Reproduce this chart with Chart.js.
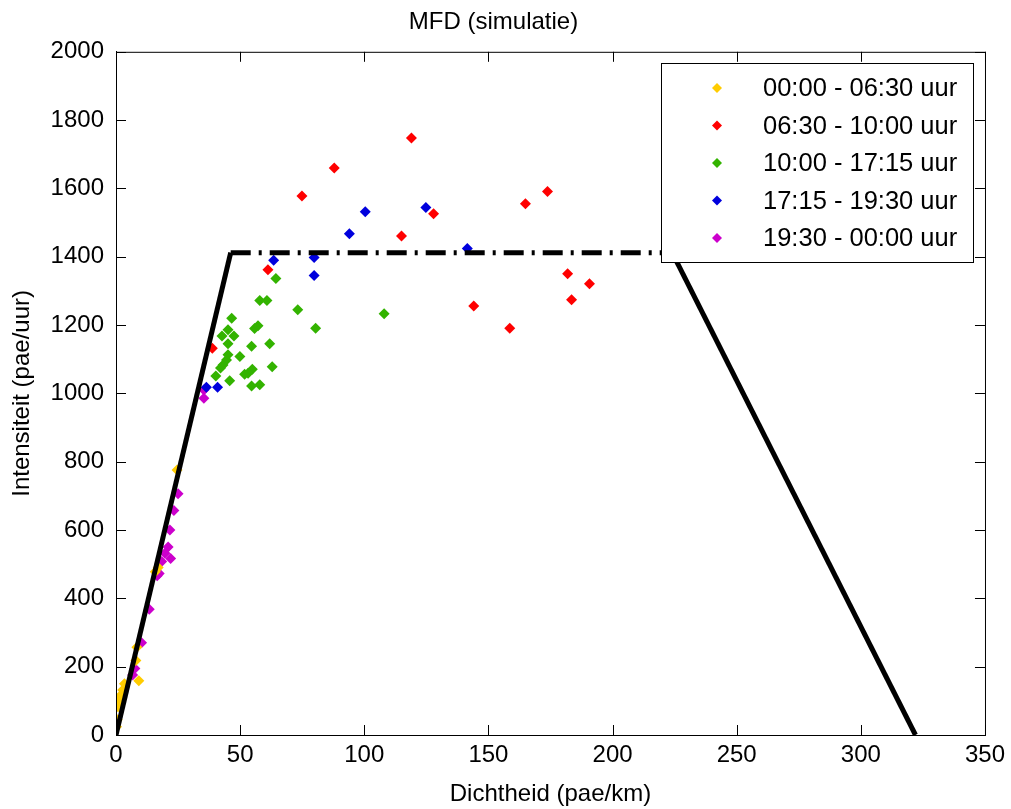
<!DOCTYPE html>
<html lang="nl">
<head>
<meta charset="UTF-8">
<title>MFD (simulatie)</title>
<script src="https://cdn.jsdelivr.net/npm/chart.js@4.4.0/dist/chart.umd.min.js"></script>
<style>
    body { margin: 0; background: #fff; }
    canvas { display: block; }
</style>
</head>
<body>
<canvas id="mfd" width="1011" height="809"></canvas>

<script>
// Data (dichtheid in pae/km, intensiteit in pae/uur)
const periods = ['00:00 - 06:30 uur', '06:30 - 10:00 uur', '10:00 - 17:15 uur', '17:15 - 19:30 uur', '19:30 - 00:00 uur'];
const colors = ['#ffcc00', '#ff0000', '#33b300', '#0000dd', '#cc00cc'];

const nachtX = [0.2, 0.5, 0.8, 1.2, 1.6, 2.7, 3.4, 8.0, 8.4, 9.2, 15.8, 17.0, 24.6];
const nachtY = [24, 45, 83, 98, 114, 132, 150, 218, 257, 159, 478, 490, 776];

const ochtendX = [38.8, 61.2, 74.9, 87.9, 119.0, 115.0, 127.9, 164.9, 173.8, 181.9, 190.7, 183.5, 144.1, 158.6];
const ochtendY = [1132, 1362, 1578, 1660, 1748, 1461, 1526, 1555, 1591, 1350, 1321, 1274, 1256, 1191];

const dagX = [64.4, 57.9, 60.8, 73.2, 46.6, 55.8, 57.2, 80.4, 45.1, 42.7, 47.5, 45.1, 54.6, 61.9, 49.9, 45.1, 44.5, 43.1, 42.1, 62.9, 54.9, 53.2, 51.8, 40.2, 45.8, 54.6, 57.9, 108.0];
const dagY = [1336, 1272, 1272, 1245, 1220, 1190, 1198, 1191, 1186, 1168, 1168, 1145, 1138, 1145, 1108, 1113, 1098, 1083, 1074, 1078, 1071, 1059, 1056, 1051, 1037, 1022, 1025, 1233];

const avondX = [36.4, 40.9, 63.5, 79.8, 79.8, 94.0, 100.4, 124.8, 141.5];
const avondY = [1018, 1018, 1390, 1398, 1345, 1467, 1532, 1544, 1424];

const nachtLaatX = [6.7, 7.6, 10.3, 13.4, 16.6, 17.4, 18.4, 19.7, 21.0, 22.0, 21.7, 23.3, 25.0, 35.4, 35.4];
const nachtLaatY = [176, 195, 270, 368, 466, 473, 508, 532, 550, 517, 600, 657, 706, 1010, 986];

// fundamental diagram: critical density, capacity, jam density
const mfdX = [0, 46.2, 224, 322];
const mfdY = [0, 1412, 1412, 0];

const xTicks = [0, 50, 100, 150, 200, 250, 300, 350];
const yTicks = [0, 200, 400, 600, 800, 1000, 1200, 1400, 1600, 1800, 2000];

const FONT = "'Liberation Sans', Arial, sans-serif";

function pairs(xs, ys) {
    return xs.map((x, i) => ({ x: x, y: ys[i] }));
}

const groups = [
    [nachtX, nachtY], [ochtendX, ochtendY], [dagX, dagY], [avondX, avondY], [nachtLaatX, nachtLaatY]
];

const scatterSets = groups.map((g, i) => ({
    type: 'scatter',
    label: periods[i],
    data: pairs(g[0], g[1]),
    pointStyle: 'rectRot',
    pointRadius: 5.5,
    pointBackgroundColor: colors[i],
    pointBorderWidth: 0,
    order: 2
}));

const lineSet = {
    type: 'line',
    label: 'MFD',
    data: pairs(mfdX, mfdY),
    borderColor: '#000',
    borderWidth: 5,
    borderCapStyle: 'butt',
    pointRadius: 0,
    fill: false,
    order: 1,
    segment: {
        borderDash: ctx => ctx.p0DataIndex === 1 ? [20, 8, 3, 8] : undefined
    }
};

// box, inward ticks and legend like the original figure
const matlabAxes = {
    id: 'matlabAxes',
    afterDraw(chart) {
        const { ctx, chartArea: a, scales: { x, y } } = chart;
        ctx.save();
        ctx.strokeStyle = '#000';
        ctx.lineWidth = 1;
        ctx.strokeRect(a.left + 0.5, a.top + 0.5, a.right - a.left, a.bottom - a.top);
        const tl = 10;
        ctx.beginPath();
        xTicks.forEach(v => {
            const px = Math.round(x.getPixelForValue(v)) + 0.5;
            ctx.moveTo(px, a.bottom); ctx.lineTo(px, a.bottom - tl);
            ctx.moveTo(px, a.top); ctx.lineTo(px, a.top + tl);
        });
        yTicks.forEach(v => {
            const py = Math.round(y.getPixelForValue(v)) + 0.5;
            ctx.moveTo(a.left, py); ctx.lineTo(a.left + tl, py);
            ctx.moveTo(a.right, py); ctx.lineTo(a.right - tl, py);
        });
        ctx.stroke();

        // legend
        const lx = 661, ly = 63, lw = 312, lh = 199;
        ctx.fillStyle = '#fff';
        ctx.fillRect(lx, ly, lw, lh);
        ctx.strokeRect(lx + 0.5, ly + 0.5, lw, lh);
        ctx.font = '25.5px ' + FONT;
        ctx.textBaseline = 'middle';
        ctx.textAlign = 'left';
        periods.forEach((p, i) => {
            const cy = 88 + i * 37.5;
            ctx.fillStyle = colors[i];
            ctx.beginPath();
            ctx.moveTo(717, cy - 5); ctx.lineTo(722, cy); ctx.lineTo(717, cy + 5); ctx.lineTo(712, cy);
            ctx.closePath();
            ctx.fill();
            ctx.fillStyle = '#000';
            ctx.fillText(p, 763, cy + 1);
        });
        ctx.restore();
    }
};

new Chart(document.getElementById('mfd'), {
    type: 'scatter',
    data: { datasets: [lineSet].concat(scatterSets) },
    options: {
        responsive: false,
        animation: false,
        layout: { padding: { left: 0, right: 24, top: 0, bottom: 0 } },
        plugins: {
            legend: { display: false },
            tooltip: { enabled: false },
            title: {
                display: true,
                text: 'MFD (simulatie)',
                color: '#000',
                font: { family: FONT, size: 24, weight: 'normal' },
                padding: { top: 8, bottom: 15 }
            }
        },
        scales: {
            x: {
                type: 'linear',
                min: 0, max: 350,
                afterFit: s => { s.height = 74; },
                ticks: { stepSize: 50, color: '#000', padding: 6, font: { family: FONT, size: 24 },
                         callback: v => String(v) },
                grid: { drawOnChartArea: false, drawTicks: false },
                border: { color: '#000', width: 1 },
                title: {
                    display: true, text: 'Dichtheid (pae/km)', color: '#000',
                    font: { family: FONT, size: 24 }, padding: { top: 0, bottom: 0 }
                }
            },
            y: {
                type: 'linear',
                min: 0, max: 2000,
                afterFit: s => { s.width = 116; },
                ticks: { stepSize: 200, color: '#000', padding: 12, font: { family: FONT, size: 24 },
                         callback: v => String(v) },
                grid: { drawOnChartArea: false, drawTicks: false },
                border: { color: '#000', width: 1 },
                title: {
                    display: true, text: 'Intensiteit (pae/uur)', color: '#000',
                    font: { family: FONT, size: 24 }, padding: { top: 8, bottom: 0 }
                }
            }
        }
    },
    plugins: [matlabAxes]
});
</script>
</body>
</html>
